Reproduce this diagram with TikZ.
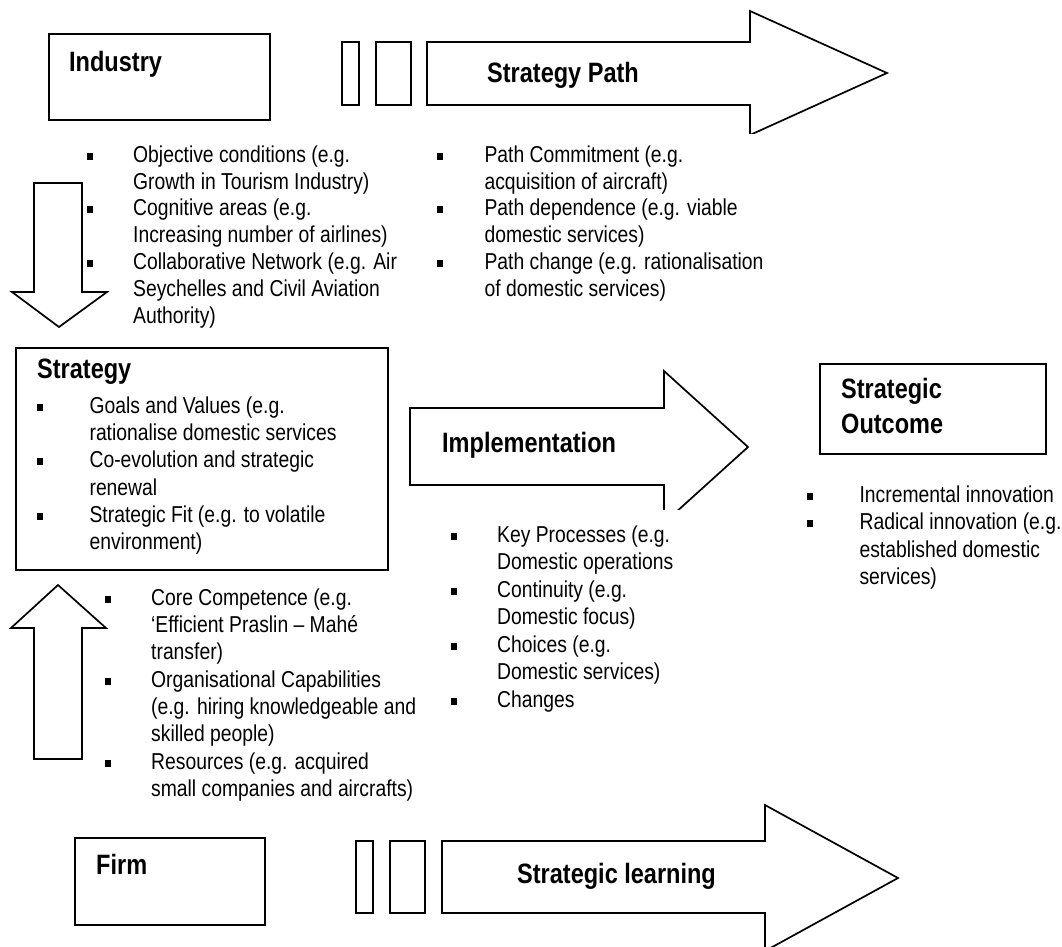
\documentclass[tikz,border=0pt]{standalone}
\usepackage{fontspec}
\setmainfont{Liberation Sans}[FakeStretch=0.84]
\usetikzlibrary{positioning}
\newcommand{\itm}[1][46pt]{\makebox[#1][l]{\rule[2.5pt]{6pt}{7pt}}}
\newcommand{\itmgap}[1][46pt]{\hspace*{#1}}
\newcommand{\topline}{\rule{0pt}{20pt}}

\begin{document}
\begin{tikzpicture}[x=1pt, y=-1pt,
  outline/.style={draw, line width=1.7pt, line join=miter},
  framebox/.style={outline, inner sep=0pt, anchor=north west},
  heading/.style={font=\fontsize{28}{35}\selectfont\bfseries, inner sep=0pt, anchor=base west},
  bullets/.style={font=\fontsize{23}{#1}\selectfont, align=left, inner sep=0pt, anchor=north west},
  bullets/.default=26.8]
  \useasboundingbox (0,0) rectangle (1062,946);

  % Boxes
  \node[framebox, minimum width=221pt, minimum height=86pt] (industry) at (48,33) {};
  \node[framebox, minimum width=372pt, minimum height=222pt] (strategy) at (15,347) {};
  \node[framebox, minimum width=226pt, minimum height=90pt] (outcome) at (819,363) {};
  \node[framebox, minimum width=190pt, minimum height=87pt] (firm) at (74,837) {};

  \node[heading] (industrylbl) at (69,71) {Industry};
  \node[heading] (strategylbl) at (37,378) {Strategy};
  \node[heading] (outcomelbl) at (841,398) {Strategic};
  \node[heading] (outcomelbl2) at (841,433) {Outcome};
  \node[heading] (firmlbl) at (96,874) {Firm};

  % Stripes in front of the path arrows
  \foreach \xa/\xb in {342/359, 376/411}{
    \draw[outline] (\xa,42) rectangle (\xb,105);
  }
  \foreach \xa/\xb in {356/373, 390/425}{
    \draw[outline] (\xa,841) rectangle (\xb,913);
  }

  % Block arrows
  \begin{scope}
    \clip (400,0) rectangle (1062,133);
    \draw[outline] (427,42) -- (750,42) -- (750,11) -- (887,73) -- (750,135)
      -- (750,105) -- (427,105) -- cycle;
  \end{scope}
  \begin{scope}
    \clip (400,300) rectangle (1062,509);
    \draw[outline] (410,408) -- (664,408) -- (664,371) -- (748,447) -- (664,523)
      -- (664,485) -- (410,485) -- cycle;
  \end{scope}
  \draw[outline] (442,841) -- (765,841) -- (765,805) -- (898,878) -- (765,951)
    -- (765,913) -- (442,913) -- cycle;
  \draw[outline] (34,183) -- (82,183) -- (82,292) -- (107,292) -- (59,327)
    -- (12,292) -- (34,292) -- cycle;
  \draw[outline] (58,585) -- (106,628) -- (82,628) -- (82,759) -- (34,759)
    -- (34,628) -- (11,628) -- cycle;

  \node[heading] (pathlbl) at (487,82) {Strategy Path};
  \node[heading] (impllbl) at (442,452) {Implementation};
  \node[heading] (learnlbl) at (517,883) {Strategic learning};

  % Bullet lists
  \node[bullets] (industrylist) at (87,142) {\topline\itm Objective conditions (e.g.\\
    \itmgap Growth in Tourism Industry)\\
    \itm Cognitive areas (e.g.\\
    \itmgap Increasing number of airlines)\\
    \itm Collaborative Network (e.g. Air\\
    \itmgap Seychelles and Civil Aviation\\
    \itmgap Authority)};
  \node[bullets] (pathlist) at (437,142) {\topline\itm[42pt] Path Commitment (e.g.\\
    \itmgap[42pt] acquisition of aircraft)\\
    \itm[42pt] Path dependence (e.g. viable\\
    \itmgap[42pt] domestic services)\\
    \itm[42pt] Path change (e.g. rationalisation\\
    \itmgap[42pt] of domestic services)};
  \node[bullets=27.3] (strategylist) at (37,393) {\topline\itm[47pt] Goals and Values (e.g.\\
    \itmgap[47pt] rationalise domestic services\\
    \itm[47pt] Co-evolution and strategic\\
    \itmgap[47pt] renewal\\
    \itm[47pt] Strategic Fit (e.g. to volatile\\
    \itmgap[47pt] environment)};
  \node[bullets=27.5] (impllist) at (451,522) {\topline\itm Key Processes (e.g.\\
    \itmgap Domestic operations\\
    \itm Continuity (e.g.\\
    \itmgap Domestic focus)\\
    \itm Choices (e.g.\\
    \itmgap Domestic services)\\
    \itm Changes};
  \node[bullets=27.5] (outcomelist) at (807,482) {\topline\itm[47pt] Incremental innovation\\
    \itm[47pt] Radical innovation (e.g.\\
    \itmgap[47pt] established domestic\\
    \itmgap[47pt] services)};
  \node[bullets=27.3] (firmlist) at (105,585) {\topline\itm Core Competence (e.g.\\
    \itmgap ‘Efficient Praslin – Mahé\\
    \itmgap transfer)\\
    \itm Organisational Capabilities\\
    \itmgap (e.g. hiring knowledgeable and\\
    \itmgap skilled people)\\
    \itm Resources (e.g. acquired\\
    \itmgap small companies and aircrafts)};
\end{tikzpicture}
\end{document}
